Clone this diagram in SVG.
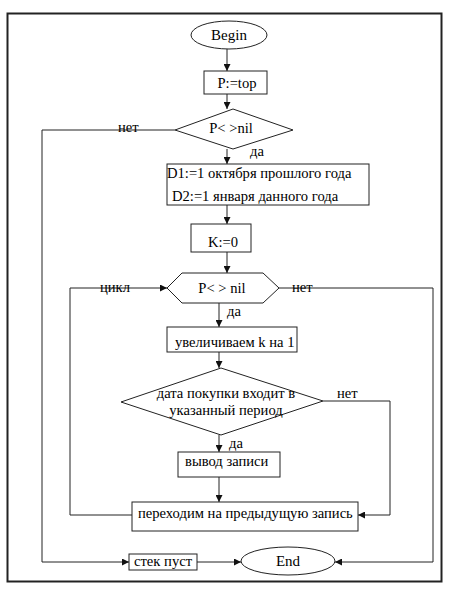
<svg xmlns="http://www.w3.org/2000/svg" width="457" height="593" viewBox="0 0 457 593">
<defs>
<marker id="ah" viewBox="0 0 10 10" refX="10" refY="5" markerWidth="7" markerHeight="7" markerUnits="userSpaceOnUse" orient="auto"><path d="M0,0 L10,5 L0,10 z" fill="#111"/></marker>
<style>
.s{fill:#fff;stroke:#222;stroke-width:1}
.c{fill:none;stroke:#222;stroke-width:1}
.a{marker-end:url(#ah)}
text{font-family:"Liberation Serif","Times New Roman",serif;font-size:14.6px;fill:#000}
.m{text-anchor:middle}
</style>
</defs>
<rect width="457" height="593" fill="#fff"/>
<rect x="7.5" y="13.5" width="434" height="568" fill="none" stroke="#222" stroke-width="2"/>
<g id="connectors">
<line class="c a" x1="227" y1="49" x2="227" y2="71"/>
<line class="c a" x1="227" y1="94" x2="227" y2="109"/>
<line class="c a" x1="227" y1="149" x2="227" y2="164"/>
<line class="c a" x1="227" y1="205" x2="227" y2="224"/>
<line class="c a" x1="227" y1="252" x2="227" y2="273"/>
<line class="c a" x1="219" y1="303" x2="219" y2="327"/>
<line class="c a" x1="219" y1="352" x2="219" y2="368"/>
<line class="c a" x1="219" y1="435" x2="219" y2="452"/>
<line class="c a" x1="219" y1="477" x2="219" y2="502"/>
<polyline class="c a" points="175,130 42,130 42,562 129,562"/>
<polyline class="c a" points="132,515 70,515 70,288 167,288"/>
<polyline class="c a" points="279,288 433,288 433,562 335,562"/>
<polyline class="c a" points="323,401 390,401 390,515 358,515"/>
<line class="c a" x1="197" y1="562" x2="241" y2="562"/>
<text x="118" y="132">нет</text>
<text x="250" y="156">да</text>
<text x="100" y="292">цикл</text>
<text x="292" y="292">нет</text>
<text x="227" y="316">да</text>
<text x="337" y="398">нет</text>
<text x="229" y="448">да</text>
</g>
<g id="begin"><ellipse class="s" cx="229" cy="35" rx="38" ry="14"/><text class="m" x="229" y="40" style="font-size:15px">Begin</text></g>
<g id="ptop"><rect class="s" x="204" y="71" width="63" height="23"/><text class="m" x="237" y="88">P:=top</text></g>
<g id="cond1"><polygon class="s" points="233,109 293,130 233,149 175,130"/><text class="m" x="231" y="133">P&lt; &gt;nil</text></g>
<g id="dates"><rect class="s" x="167" y="164" width="202" height="41"/><text x="167" y="178">D1:=1 октября прошлого года</text><text x="172" y="201">D2:=1 января данного года</text></g>
<g id="k0"><rect class="s" x="191" y="224" width="60" height="28"/><text x="208" y="247">K:=0</text></g>
<g id="loop"><polygon class="s" points="167,288 182,273 263,273 279,288 263,303 182,303"/><text class="m" x="222" y="293">P&lt; &gt; nil</text></g>
<g id="inc"><rect class="s" x="167" y="327" width="130" height="25"/><text x="175" y="347">увеличиваем k на 1</text></g>
<g id="cond2"><polygon class="s" points="221,368 323,401 221,435 121,402"/><text class="m" x="226" y="398">дата покупки входит в</text><text class="m" x="226" y="415">указанный период</text></g>
<g id="out"><rect class="s" x="178" y="452" width="102" height="25"/><text x="185" y="466">вывод записи</text></g>
<g id="prev"><rect class="s" x="132" y="502" width="226" height="29"/><text x="138" y="518">переходим на предыдущую запись</text></g>
<g id="empty"><rect class="s" x="129" y="554" width="68" height="16"/><text x="134" y="566">стек пуст</text></g>
<g id="end"><ellipse class="s" cx="288" cy="561" rx="47" ry="14"/><text class="m" x="288" y="566" style="font-size:15px">End</text></g>
</svg>
